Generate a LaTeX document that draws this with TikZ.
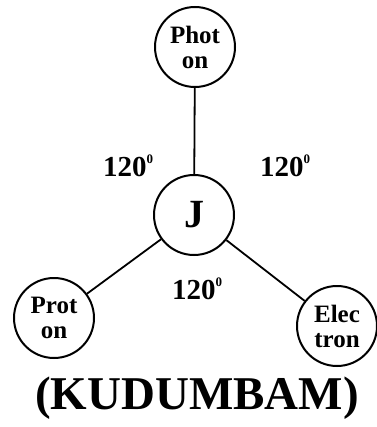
\documentclass[tikz,border=0pt]{standalone}
\usepackage{fontspec}
\setmainfont{Liberation Serif}
\usepackage{tikz}
\usetikzlibrary{positioning}
\newcommand{\degsup}{\raisebox{0.45em}{\fontsize{13}{13}\selectfont 0}}
\tikzset{particle/.style={circle, draw, line width=2pt, minimum size=80pt, inner sep=0pt, align=center, font=\bfseries\fontsize{25}{25}\selectfont},
         angle/.style={font=\bfseries\fontsize{29}{29}\selectfont},
         link/.style={line width=1.8pt}}

\begin{document}
\begin{tikzpicture}[x=1pt,y=-1pt]
			\useasboundingbox (0,0) rectangle (376,427);
			\node [particle] (photon) at (195,47) {Phot\\on};
			\node [particle, font=\bfseries\fontsize{40}{40}\selectfont] (J) at (194,215) {J};
			\node [particle] (proton) at (54,318) {Prot\\on};
			\node [particle] (electron) at (337,326) {Elec\\tron};
			\draw [link] (photon) -- (J);
			\draw [link] (J) -- (proton);
			\draw [link] (J) -- (electron);
			\node [angle] (leftangle) at (128,166) {120\degsup};
			\node [angle] (rightangle) at (285,166) {120\degsup};
			\node [angle] (lowangle) at (197,289) {120\degsup};
			\node [font=\bfseries\fontsize{47}{47}\selectfont] (title) at (197,398) {(KUDUMBAM)};
		\end{tikzpicture}
\end{document}
